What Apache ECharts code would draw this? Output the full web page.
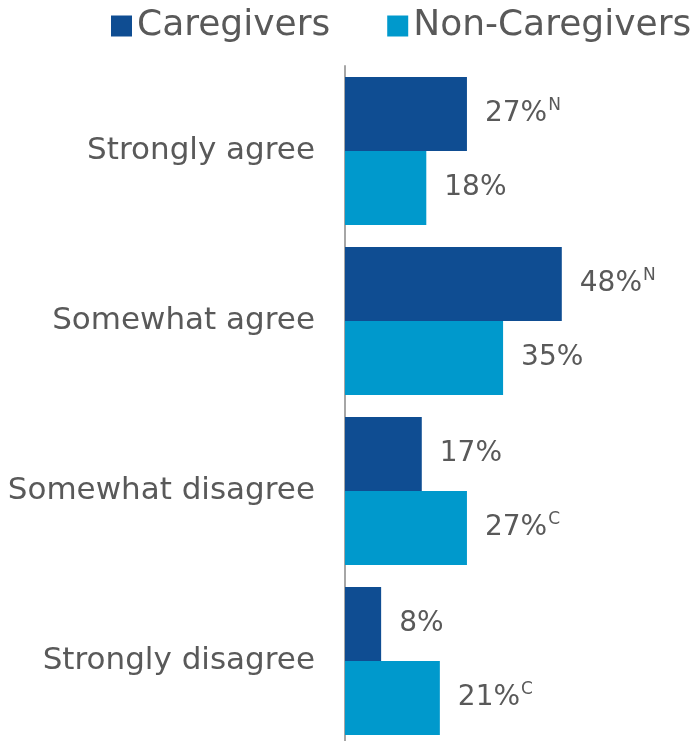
<!DOCTYPE html>
<html>
<head>
<meta charset="utf-8">
<script src="https://cdn.jsdelivr.net/npm/echarts@6/dist/echarts.min.js"></script>
<style>
  html, body { margin: 0; padding: 0; background: #fff; }
  #chart { width: 699px; height: 741px; }
</style>
</head>
<body>
<div id="chart"></div>
<script>
var categories = ['Strongly agree', 'Somewhat agree', 'Somewhat disagree', 'Strongly disagree']
var caregivers = [27, 48, 17, 8]
var nonCaregivers = [18, 35, 27, 21]
// significance letters shown after the value
var caregiverSig = ['N', 'N', '', '']
var nonCaregiverSig = ['', '', 'C', 'C']

var textColor = '#595959'
var font = 'DejaVu Sans'

function valueLabel(sig) {
  return {
    show: true,
    position: 'right',
    distance: 18,
    formatter: function (p) {
      var s = sig[p.dataIndex]
      return '{v|' + p.value + '%}' + (s ? '{s|' + s + '}' : '')
    },
    rich: {
      v: { fontSize: 28, color: textColor, fontFamily: font, lineHeight: 34 },
      s: { fontSize: 17, color: textColor, fontFamily: font, lineHeight: 34, verticalAlign: 'top', padding: [0, 0, 0, 1] }
    }
  }
}

var chart = echarts.init(document.getElementById('chart'))
chart.setOption({
  backgroundColor: '#fff',
  animation: false,
  legend: {
    left: 111,
    top: 8,
    width: 588,
    padding: 0,
    itemWidth: 21,
    itemHeight: 21,
    itemGap: 57,
    icon: 'rect',
    textStyle: { fontSize: 36, color: textColor, fontFamily: font },
    data: ['Caregivers', 'Non-Caregivers']
  },
  grid: {
    left: 345,
    top: 66,
    width: 271,
    height: 680,
    outerBoundsMode: 'none'
  },
  xAxis: {
    type: 'value',
    min: 0,
    max: 60,
    show: false,
    splitLine: { show: false }
  },
  yAxis: {
    type: 'category',
    inverse: true,
    data: categories,
    axisTick: { show: false },
    axisLine: { show: true, lineStyle: { color: '#A6A6A6', width: 2 } },
    axisLabel: { fontSize: 31, color: textColor, fontFamily: font, margin: 30 }
  },
  series: [
    {
      name: 'Caregivers',
      type: 'bar',
      data: caregivers,
      barGap: 0,
      barCategoryGap: '13%',
      itemStyle: { color: '#0F4D92' },
      label: valueLabel(caregiverSig)
    },
    {
      name: 'Non-Caregivers',
      type: 'bar',
      data: nonCaregivers,
      itemStyle: { color: '#0099CC' },
      label: valueLabel(nonCaregiverSig)
    }
  ]
})
</script>
</body>
</html>
